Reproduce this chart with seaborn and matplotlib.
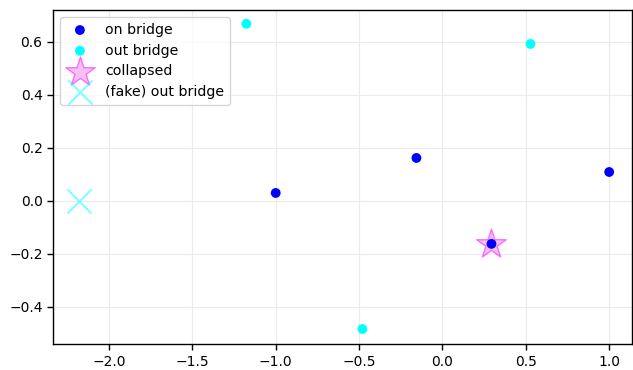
import numpy as np
import matplotlib
matplotlib.use('Agg')
import matplotlib.pyplot as plt
import seaborn as sns

sns.set_style('white')
plt.rcParams['font.family'] = ['DejaVu Sans']

# pontos
on_x = [-1.0, -0.156, 1.0, 0.294]
on_y = [0.03, 0.162, 0.109, -0.162]
out_x = [-1.176, 0.528, -0.48]
out_y = [0.668, 0.592, -0.483]
col_x = [0.294]
col_y = [-0.162]
fake_x = [-2.178]
fake_y = [0.0]

fig = plt.figure(figsize=(6.33, 3.70), dpi=100)
ax = fig.add_axes([0.0837, 0.07, 0.915, 0.903])

sns.scatterplot(x=on_x, y=on_y, color='blue', s=50, edgecolor='none', label='on bridge', ax=ax, zorder=3)
sns.scatterplot(x=out_x, y=out_y, color='cyan', s=50, edgecolor='none', label='out bridge', ax=ax, zorder=3)
sns.scatterplot(x=col_x, y=col_y, color='violet', marker='*', s=500, alpha=0.5,
                edgecolor='magenta', linewidth=1, label='collapsed', ax=ax, zorder=2)
ax.scatter(fake_x, fake_y, color='cyan', marker='x', s=300, alpha=0.5, linewidths=1.5,
           label='(fake) out bridge', zorder=2)

ax.set_xlim(-2.336, 1.138)
ax.set_ylim(-0.54, 0.72)
ax.grid(True, color='#ebebeb', linewidth=0.8)
ax.set_axisbelow(True)
for sp in ax.spines.values():
    sp.set_color('black')
    sp.set_linewidth(1)
ax.tick_params(axis='both', length=4, width=1, labelsize=10, left=True, bottom=True,
               color='black', labelcolor='black')
leg = ax.legend(loc='upper left', fontsize=10.2, frameon=True, labelspacing=0.48)
for t in leg.get_texts():
    t.set_color('black')

fig.savefig('out.png', dpi=100)
